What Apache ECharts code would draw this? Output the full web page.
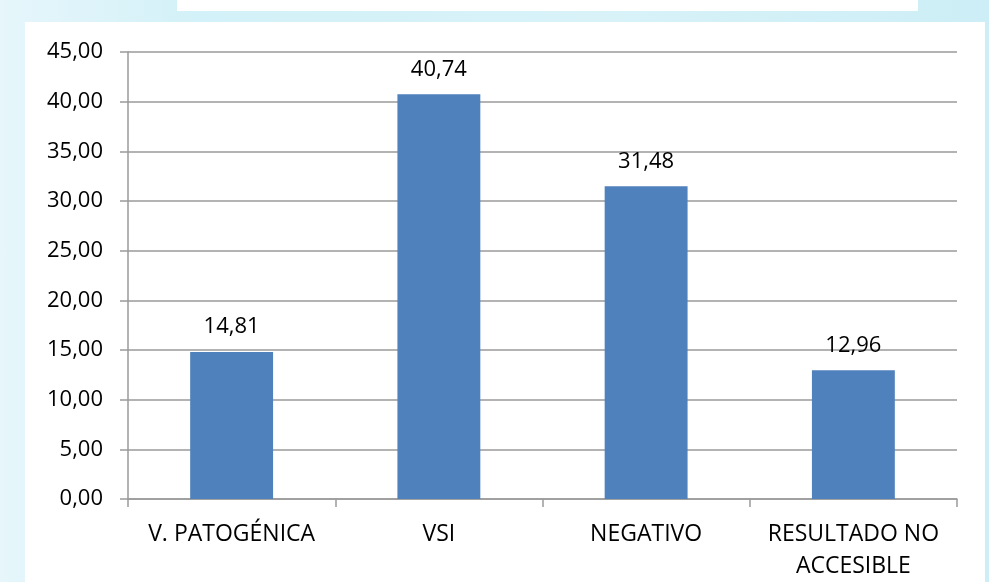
<!DOCTYPE html>
<html>
<head>
<meta charset="utf-8">
<script src="https://cdn.jsdelivr.net/npm/echarts@6/dist/echarts.min.js"></script>
<style>
html,body{margin:0;padding:0;width:989px;height:582px;overflow:hidden;}
body{background:linear-gradient(90deg,#e6f6fb 0%,#d3f1f8 20%,#d8f2f8 60%,#cdeef6 100%);}
#main{width:989px;height:582px;}
</style>
</head>
<body>
<div id="main"></div>
<script>
const categories = ['V. PATOGÉNICA', 'VSI', 'NEGATIVO', 'RESULTADO NO\nACCESIBLE'];
const values = [14.81, 40.74, 31.48, 12.96];
const yTicks = { min: 0, max: 45, interval: 5 };

const fmt = v => v.toFixed(2).replace('.', ',');
const chart = echarts.init(document.getElementById('main'), null, { renderer: 'canvas' });
chart.setOption({
  animation: false,
  backgroundColor: 'transparent',
  graphic: [
    { type: 'rect', shape: { x: 25, y: 22, width: 960, height: 560 }, style: { fill: '#ffffff' }, z: -10 },
    { type: 'rect', shape: { x: 177, y: 0, width: 741, height: 11 }, style: { fill: '#ffffff' }, z: -10 }
  ],
  grid: { left: 128, right: 32, top: 52, bottom: 83, containLabel: false },
  xAxis: {
    type: 'category',
    data: categories,
    axisLine: { lineStyle: { color: '#9a9a9a', width: 1.5 } },
    axisTick: { show: true, length: 8, lineStyle: { color: '#9a9a9a', width: 1.5 } },
    axisLabel: { color: '#000', fontFamily: 'Open Sans', fontSize: 23, margin: 19, lineHeight: 32, interval: 0 }
  },
  yAxis: {
    type: 'value',
    min: yTicks.min, max: yTicks.max, interval: yTicks.interval,
    axisLine: { show: true, lineStyle: { color: '#9a9a9a', width: 1.5 } },
    axisTick: { show: true, length: 8, lineStyle: { color: '#9a9a9a', width: 1.5 } },
    splitLine: { lineStyle: { color: '#9a9a9a', width: 1.5 } },
    axisLabel: { color: '#000', fontFamily: 'Open Sans', fontSize: 22, margin: 25, formatter: v => fmt(v) }
  },
  series: [{
    type: 'bar',
    data: values,
    barWidth: '40%',
    itemStyle: { color: '#4f81bd' },
    label: { show: true, position: 'top', distance: 14, color: '#000', fontFamily: 'Open Sans', fontSize: 22, formatter: p => fmt(p.value) }
  }]
});
</script>
</body>
</html>
